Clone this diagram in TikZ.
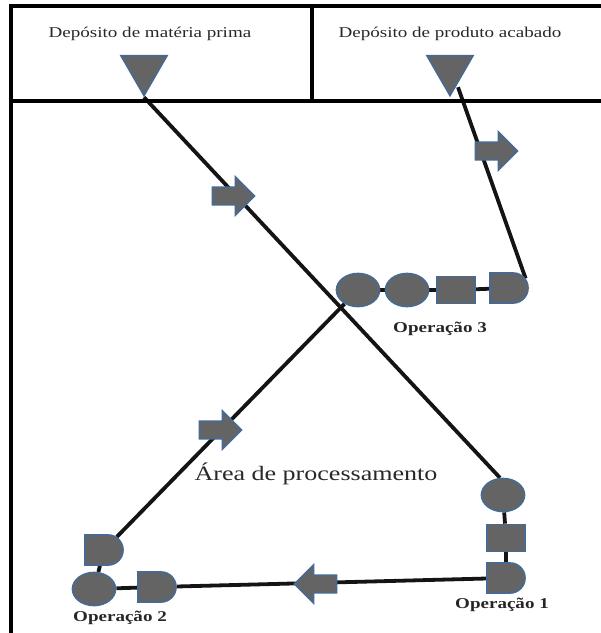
\documentclass[tikz,border=0pt]{standalone}
\usepackage{fontspec}
\setmainfont{Liberation Serif}[FakeStretch=1.27]
\usetikzlibrary{shapes.geometric,shapes.arrows,shapes.misc,backgrounds,calc}
\definecolor{opfill}{RGB}{100,100,100}
\definecolor{opline}{RGB}{72,106,146}
\definecolor{inktext}{RGB}{40,40,40}
\begin{document}
\begin{tikzpicture}[x=1pt,y=1pt,
  frame/.style={line width=3.6pt},
  flow/.style={line width=3.8pt, black!92},
  sym/.style={fill=opfill, draw=opline, line width=1.7pt, inner sep=0pt},
  opcircle/.style={sym, ellipse, minimum width=43pt, minimum height=33pt},
  opbox/.style={sym, rectangle, minimum width=38pt, minimum height=27pt},
  opwait/.style={sym, rounded rectangle, rounded rectangle left arc=none,
    minimum width=38pt, minimum height=30pt},
  stock/.style={sym, regular polygon, regular polygon sides=3,
    shape border rotate=180, minimum size=53pt},
  move/.style={sym, single arrow, inner xsep=0pt, inner ysep=8pt,
    single arrow head extend=10pt, minimum height=42pt},
  toptext/.style={text=inktext, inner sep=0pt, anchor=base,
    font=\fontsize{15}{18}\selectfont},
  areatext/.style={text=inktext, inner sep=0pt, anchor=base,
    font=\fontsize{20.5}{24}\selectfont},
  oplabel/.style={text=black!85, inner sep=0pt, anchor=base,
    font=\fontsize{15}{18}\selectfont\bfseries}]
\useasboundingbox (0,0) rectangle (601,-633);

% layout frame
\draw[frame] (11,-633) -- (11,-6) -- (601,-6);
\draw[frame] (11,-101) -- (601,-101);
\draw[frame] (312,-6) -- (312,-101);

% store headings
\node[toptext] (depmp) at (150,-37) {Depósito de matéria prima};
\node[toptext] (deppa) at (450,-37) {Depósito de produto acabado};

% storage symbols
\node[stock] (tri1) at (144,-69) {};
\node[stock] (tri2) at (450,-69) {};

% operation 3
\node[opcircle] (e31) at (358,-290) {};
\node[opcircle] (e32) at (407,-290) {};
\node[opbox]    (r3)  at (456,-290) {};
\node[opwait]   (d3)  at (509,-288) {};
\node[oplabel]  (lab3) at (440,-332) {Operação 3};

% operation 1
\node[opcircle] (e1) at (503,-495) {};
\node[opbox]    (r1) at (506,-538) {};
\node[opwait]   (d1) at (506,-578) {};
\node[oplabel]  (lab1) at (502,-608) {Operação 1};

% operation 2
\node[opwait]   (d2a) at (104,-550) {};
\node[opcircle] (e2)  at (94,-589) {};
\node[opwait]   (d2b) at (157,-587) {};
\node[oplabel]  (lab2) at (120,-621) {Operação 2};

% area caption
\node[areatext] (area) at (316,-480) {Área de processamento};

% transport arrows
\node[move] (mv1) at (229,-196) {};
\node[move] (mv2) at (492,-151) {};
\node[move] (mv3) at (216,-430) {};
\node[move, shape border rotate=180] (mv4) at (320,-584) {};

% material flow
\begin{scope}[on background layer]
\draw[flow] (tri1.corner 1) -- (e1.100);
\draw[flow] ($(tri2.corner 1)+(8,10)$) -- (d3.30);
\draw[flow] (e31) -- (d2a);
\draw[flow] (d1) -- (d2b);
\draw[flow] (e31) -- (e32);
\draw[flow] (e32) -- (r3);
\draw[flow] (r3) -- (d3);
\draw[flow] (e1) -- (r1);
\draw[flow] (r1) -- (d1);
\draw[flow] (d2a) -- (e2);
\draw[flow] (e2) -- (d2b);
\end{scope}
\end{tikzpicture}
\end{document}
